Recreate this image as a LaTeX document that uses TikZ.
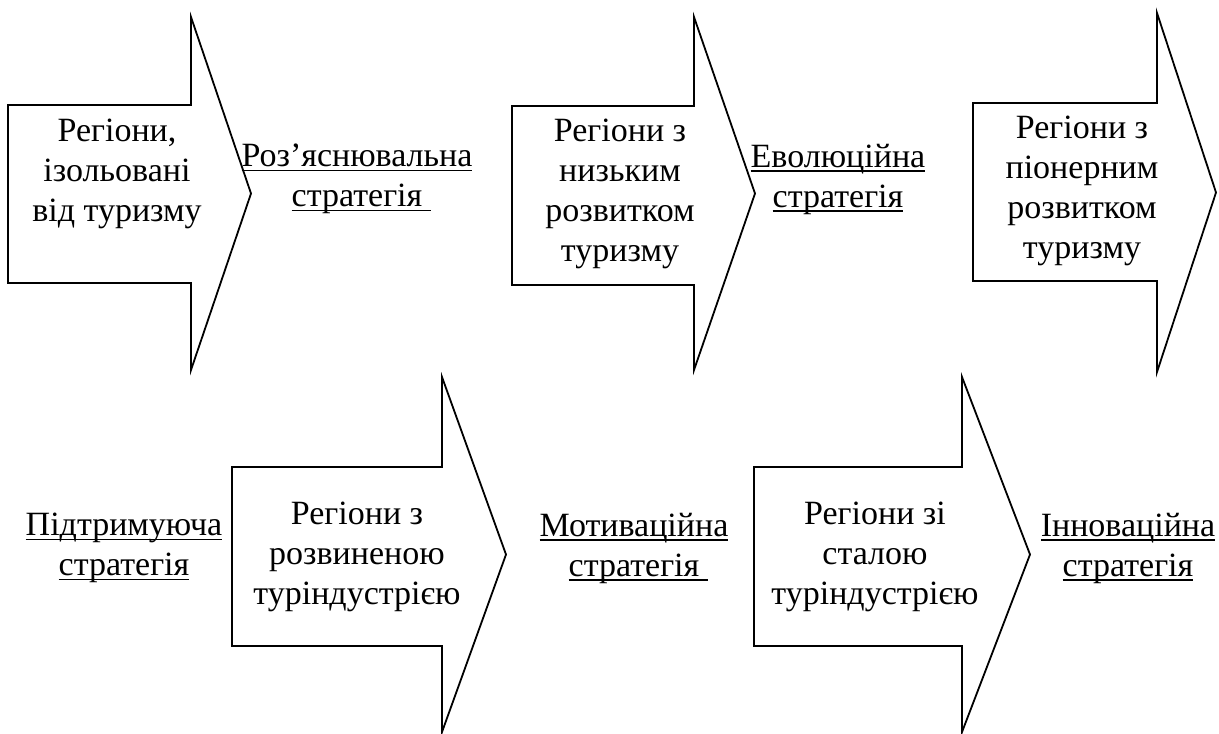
\documentclass[tikz,border=0pt]{standalone}
\usepackage{fontspec}
\setmainfont{Liberation Serif}
\usepackage{tikz}

\newlength\undlwd
\newcommand{\undl}[1]{\settowidth\undlwd{#1}\rlap{\rule[-2.4pt]{\undlwd}{0.8pt}}#1}
% left, neck, tip, body top, body bottom, head top, head bottom
\newcommand{\regarrow}[7]{%
  \draw[arr] (#1,#4) -- (#2,#4) -- (#2,#6) -- (#3,{(#6+#7)/2}) -- (#2,#7) -- (#2,#5) -- (#1,#5) -- cycle;}

\tikzset{
  arr/.style={line width=0.9pt, line join=miter},
  reg/.style={align=center, inner sep=0pt, font=\fontsize{17}{20}\selectfont},
  strat/.style={align=center, inner sep=0pt, font=\fontsize{17}{20}\selectfont}
}

\begin{document}
\begin{tikzpicture}[x=0.5pt,y=-0.5pt]
\useasboundingbox (0,0) rectangle (1219,733);

% drawing
\regarrow{8}{191}{251}{105}{283}{17}{370}
\regarrow{512}{694}{755}{106}{285}{17}{370}
\regarrow{973}{1157}{1216}{103}{281}{13}{372}
\regarrow{232}{442}{506}{467}{646}{377}{732}
\regarrow{754}{962}{1030}{467}{646}{377}{732}

% labels
\node[reg] (r1) at (117,174) {Регіони,\\ізольовані\\від туризму};
\node[reg] (r2) at (620,194) {Регіони з\\низьким\\розвитком\\туризму};
\node[reg] (r3) at (1082,191) {Регіони з\\піонерним\\розвитком\\туризму};
\node[reg] (r4) at (357,557) {Регіони з\\розвиненою\\туріндустрією};
\node[reg] (r5) at (875,557) {Регіони зі\\сталою\\туріндустрією};

\node[strat] (s1) at (357,179) {\undl{Роз’яснювальна}\\\undl{стратегія\ }};
\node[strat] (s2) at (838,179) {\undl{Еволюційна}\\\undl{стратегія}};
\node[strat] (s3) at (124,548) {\undl{Підтримуюча}\\\undl{стратегія}};
\node[strat] (s4) at (634,548) {\undl{Мотиваційна}\\\undl{стратегія\ }};
\node[strat] (s5) at (1128,548) {\undl{Інноваційна}\\\undl{стратегія}};
\end{tikzpicture}
\end{document}
